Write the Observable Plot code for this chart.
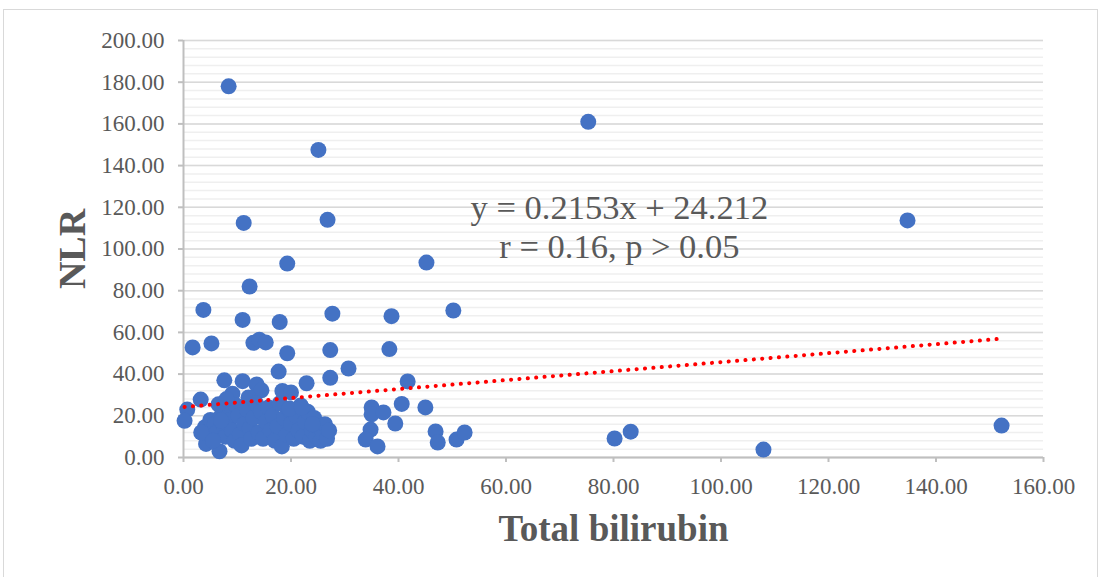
<!DOCTYPE html>
<html><head><meta charset="utf-8">
<script src="https://cdn.jsdelivr.net/npm/d3@7"></script>
<script src="https://cdn.jsdelivr.net/npm/@observablehq/plot@0.6"></script>
<style>
html,body{margin:0;padding:0;background:#fff;}
#wrap{position:relative;width:1100px;height:577px;overflow:hidden;}
#border{position:absolute;left:3px;top:9px;width:1093px;height:620px;border:1px solid #d9d9d9;pointer-events:none;}
</style></head><body><div id="wrap"><div id="chart"></div><div id="border"></div></div>
<script>
// Total bilirubin (x) and NLR (y) per patient
const bilirubin = [
  8.4, 75.3, 25.1, 11.2, 26.8, 134.7, 45.2, 19.3, 12.3, 3.7, 50.2, 27.7, 38.7, 11.0, 17.9,
  5.2, 1.7, 13.0, 14.1, 15.3, 19.3, 27.3, 38.3, 30.7, 17.7, 27.3, 7.6, 11.0, 41.7, 22.9,
  13.6, 14.5, 18.4, 20.0, 9.1, 12.1, 3.2, 0.7, 0.2,
  40.6, 45.0, 35.0, 35.0, 37.2, 39.4, 34.8, 33.9, 36.1, 46.9, 47.3, 50.8, 52.3,
  80.2, 83.2, 107.9, 152.2,
  4.0, 4.5, 4.2, 5.0, 5.8, 6.2, 6.7, 7.0, 7.5, 7.8, 8.2, 8.6, 9.0, 9.5, 9.8, 10.2, 10.5, 10.8,
  11.3, 11.8, 12.3, 12.6, 13.0, 13.5, 14.0, 14.4, 14.8, 15.3, 15.8, 16.2, 16.6, 17.0, 17.5,
  17.9, 18.3, 18.7, 19.2, 19.6, 20.0, 20.5, 21.0, 21.4, 21.8, 22.2, 22.6, 23.1, 23.5, 23.9,
  24.3, 24.7, 25.1, 25.5, 25.9, 26.3, 26.7, 27.1, 6.5, 8.0, 3.3, 5.5, 19.7, 22.0, 7.0, 24.0
];
const nlr = [
  178, 161, 147.5, 112.5, 114, 113.7, 93.5, 93, 82, 70.8, 70.5, 69, 67.8, 66, 65,
  54.7, 52.8, 55, 56.5, 55.2, 50, 51.5, 52, 42.7, 41.2, 38.2, 37, 36.6, 36.5, 35.6,
  35, 32.2, 31.9, 31.2, 30.6, 28.8, 27.8, 23, 17.6,
  25.7, 24, 24, 20.7, 21.6, 16.3, 13.4, 8.6, 5.3, 12.5, 7.2, 8.6, 12.0,
  9.1, 12.4, 3.8, 15.3,
  14.5, 9.5, 6.5, 18, 16, 12, 3.0, 20, 15, 10, 22, 18, 13, 8, 25, 20, 11, 5.8,
  16, 23, 14, 9, 19, 26, 12, 22, 9, 17, 24, 13, 20, 8, 15,
  26, 5.3, 19, 11, 23, 16, 9, 20, 13, 25, 10, 17, 22, 8, 13,
  19, 10, 15, 8, 12, 16, 9, 13, 25.5, 28, 12.0, 8, 23.5, 24, 17.7, 16
];

const xTicks = [0, 20, 40, 60, 80, 100, 120, 140, 160];
const yTicks = [0, 20, 40, 60, 80, 100, 120, 140, 160, 180, 200];
const yMinorTicks = d3.range(0, 201, 4);

const slope = 0.2153, intercept = 24.212;
const equationLines = ["y = 0.2153x + 24.212", "r = 0.16, p > 0.05"];
const equationX = [81.1, 81.1];
const equationY = [119.5, 101.2];
const xTitle = "Total bilirubin";
const yTitle = "NLR";

const points = bilirubin.map((b, i) => ({x: b, y: nlr[i]}));
const xMin = d3.min(bilirubin), xMax = d3.max(bilirubin);
const trend = [xMin, xMax].map(x => ({x, y: slope * x + intercept}));
const eq = equationLines.map((t, i) => ({t, x: equationX[i], y: equationY[i]}));
const fmt = d => d.toFixed(2);
const grey = "#595959";

const chart = Plot.plot({
  width: 1100, height: 577,
  marginLeft: 183, marginRight: 57, marginTop: 40, marginBottom: 120,
  style: {fontFamily: "'Liberation Serif', 'Times New Roman', serif", fontSize: "23px", color: grey, background: "transparent"},
  x: {domain: [0, 160]},
  y: {domain: [0, 200]},
  marks: [
    Plot.ruleY(yMinorTicks, {stroke: "#efefef", strokeWidth: 1.5}),
    Plot.ruleY(yTicks, {stroke: "#d9d9d9", strokeWidth: 1.5}),
    Plot.axisY({ticks: yTicks, tickFormat: fmt, tickSize: 5, tickPadding: 14, stroke: "#bfbfbf", strokeWidth: 2, fill: grey, fontSize: 23, label: null}),
    Plot.axisX({ticks: xTicks, tickFormat: fmt, tickSize: 5, tickPadding: 15, stroke: "#bfbfbf", strokeWidth: 2, fill: grey, fontSize: 23, label: null}),
    Plot.ruleX([0], {stroke: "#bfbfbf", strokeWidth: 2}),
    Plot.ruleY([0], {stroke: "#bfbfbf", strokeWidth: 2}),
    Plot.dot(points, {x: "x", y: "y", r: 8, fill: "#4472C4", stroke: null}),
    Plot.line(trend, {x: "x", y: "y", stroke: "#ff0000", strokeWidth: 4, strokeDasharray: "0.1 8.3", strokeLinecap: "round"}),
    Plot.text(eq, {x: "x", y: "y", text: "t", fontSize: 34.5, fill: grey, textAnchor: "middle", lineAnchor: "middle"}),
    Plot.text([yTitle], {frameAnchor: "left", dx: -111, rotate: -90, textAnchor: "middle", lineAnchor: "middle", fontSize: 38, fontWeight: "bold", fill: grey}),
    Plot.text([xTitle], {frameAnchor: "bottom", dy: 72, textAnchor: "middle", lineAnchor: "middle", fontSize: 37, fontWeight: "bold", fill: grey})
  ]
});
document.getElementById("chart").appendChild(chart);
</script></body></html>
